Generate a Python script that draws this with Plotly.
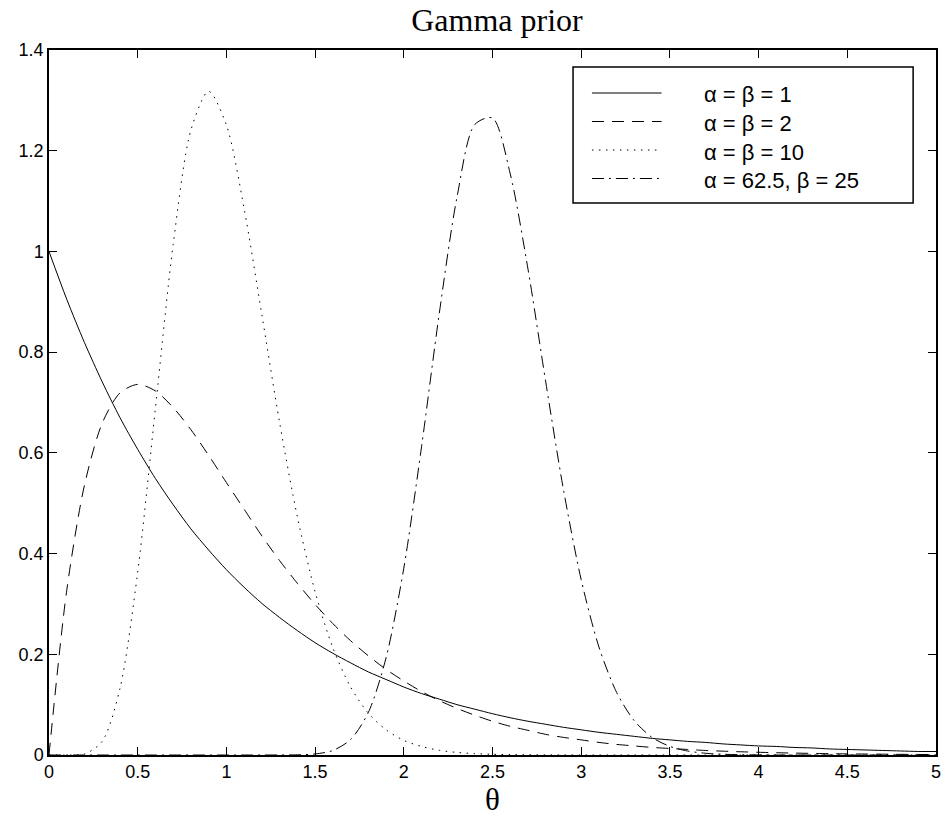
import plotly.graph_objects as go

# Sample points along theta (x axis)
theta = [round(0.1 * i, 1) for i in range(51)]

# alpha = beta = 1
pdf_a1 = [1.000, 0.905, 0.819, 0.741, 0.670, 0.607, 0.549, 0.497, 0.449, 0.407,
          0.368, 0.333, 0.301, 0.273, 0.247, 0.223, 0.202, 0.183, 0.165, 0.150,
          0.135, 0.122, 0.111, 0.100, 0.091, 0.082, 0.074, 0.067, 0.061, 0.055,
          0.050, 0.045, 0.041, 0.037, 0.033, 0.030, 0.027, 0.025, 0.022, 0.020,
          0.018, 0.017, 0.015, 0.014, 0.012, 0.011, 0.010, 0.009, 0.008, 0.007,
          0.007]

# alpha = beta = 2
pdf_a2 = [0.000, 0.327, 0.536, 0.659, 0.719, 0.736, 0.723, 0.690, 0.646, 0.595,
          0.541, 0.488, 0.435, 0.386, 0.341, 0.299, 0.261, 0.227, 0.197, 0.170,
          0.147, 0.126, 0.108, 0.0925, 0.079, 0.067, 0.057, 0.049, 0.041, 0.035,
          0.030, 0.025, 0.021, 0.018, 0.015, 0.013, 0.011, 0.009, 0.0076, 0.0064,
          0.0054, 0.0045, 0.0038, 0.0032, 0.0027, 0.0022, 0.0019, 0.0016, 0.0013, 0.0011,
          0.0009]

# alpha = beta = 10
pdf_a10 = [0.000, 0.000, 0.0019, 0.027, 0.132, 0.363, 0.689, 1.014, 1.241, 1.318,
           1.251, 1.085, 0.874, 0.660, 0.473, 0.324, 0.213, 0.135, 0.083, 0.050,
           0.029, 0.017, 0.0093, 0.0051, 0.0027, 0.0015, 0.0008, 0.0004, 0.0002, 0.0001,
           0.0, 0.0, 0.0, 0.0, 0.0, 0.0, 0.0, 0.0, 0.0, 0.0,
           0.0, 0.0, 0.0, 0.0, 0.0, 0.0, 0.0, 0.0, 0.0, 0.0,
           0.0]

# alpha = 62.5, beta = 25
pdf_a625 = [0.0, 0.0, 0.0, 0.0, 0.0, 0.0, 0.0, 0.0, 0.0, 0.0,
            0.0, 0.0, 0.0, 0.00005, 0.00036, 0.0021, 0.0090, 0.0306, 0.0844, 0.193,
            0.371, 0.612, 0.877, 1.108, 1.252, 1.265, 1.154, 0.965, 0.741, 0.527,
            0.348, 0.2145, 0.124, 0.0676, 0.0348, 0.0170, 0.0079, 0.0035, 0.0015, 0.0006,
            0.0002, 0.0, 0.0, 0.0, 0.0, 0.0, 0.0, 0.0, 0.0, 0.0,
            0.0]

series_names = ["α = β = 1", "α = β = 2", "α = β = 10", "α = 62.5, β = 25"]
series_values = [pdf_a1, pdf_a2, pdf_a10, pdf_a625]
dashes = ["solid", "12px,8px", "1.5px,5.5px", "12px,5px,2px,5px"]

x_tickvals = [0, 0.5, 1, 1.5, 2, 2.5, 3, 3.5, 4, 4.5, 5]
x_ticktext = ["0", "0.5", "1", "1.5", "2", "2.5", "3", "3.5", "4", "4.5", "5"]
y_tickvals = [0, 0.2, 0.4, 0.6, 0.8, 1.0, 1.2, 1.4]
y_ticktext = ["0", "0.2", "0.4", "0.6", "0.8", "1", "1.2", "1.4"]

W, H = 948, 816
L, R, T, B = 49, 941, 50, 755  # plot area in pixels

fig = go.Figure()
for name, vals, dash in zip(series_names, series_values, dashes):
    fig.add_trace(go.Scatter(
        x=theta, y=vals, mode="lines", name=name, showlegend=False,
        line=dict(color="black", width=1, dash=dash, shape="spline", smoothing=0.8),
    ))

def px(xp):
    return (xp - L) / (R - L)

def py(yp):
    return (B - yp) / (B - T)

sans = "Arial, Liberation Sans, sans-serif"
serif = "Times New Roman, Liberation Serif, serif"

# Manual legend (box, line samples, labels)
shapes = [dict(type="rect", xref="paper", yref="paper",
               x0=px(576), x1=px(918), y0=py(203), y1=py(67),
               line=dict(color="black", width=1.5), fillcolor="white", layer="above")]
annotations = []
row_y = [93, 121.5, 150, 178.5]
for name, dash, ry in zip(series_names, dashes, row_y):
    shapes.append(dict(type="line", xref="paper", yref="paper",
                       x0=px(595), x1=px(665), y0=py(ry), y1=py(ry),
                       line=dict(color="black", width=1, dash=dash), layer="above"))
    annotations.append(dict(xref="paper", yref="paper", x=px(706), y=py(ry + 2),
                            xanchor="left", yanchor="middle", showarrow=False,
                            text=name, font=dict(family=sans, size=22, color="black")))

annotations.append(dict(xref="paper", yref="paper", x=px(495), y=py(799),
                        xanchor="center", yanchor="middle", showarrow=False,
                        text="θ", font=dict(family=serif, size=31, color="black")))

axis_common = dict(showgrid=False, zeroline=False, showline=True, linecolor="black",
                   linewidth=1.5, mirror="ticks", ticks="inside", ticklen=8,
                   tickwidth=1, tickcolor="black",
                   tickfont=dict(family=sans, size=18, color="black"))

fig.update_layout(
    width=W, height=H,
    margin=dict(l=L, r=W - R, t=T, b=H - B, pad=0),
    paper_bgcolor="white", plot_bgcolor="white",
    title=dict(text="Gamma prior", xref="container", x=497 / W, xanchor="center",
               y=1 - 20 / H, yanchor="middle",
               font=dict(family=serif, size=32, color="black")),
    xaxis=dict(range=[0, 5], tickvals=x_tickvals, ticktext=x_ticktext, **axis_common),
    yaxis=dict(range=[0, 1.4], tickvals=y_tickvals, ticktext=y_ticktext, **axis_common),
    shapes=shapes, annotations=annotations, showlegend=False,
)

fig.write_html("out.html")
